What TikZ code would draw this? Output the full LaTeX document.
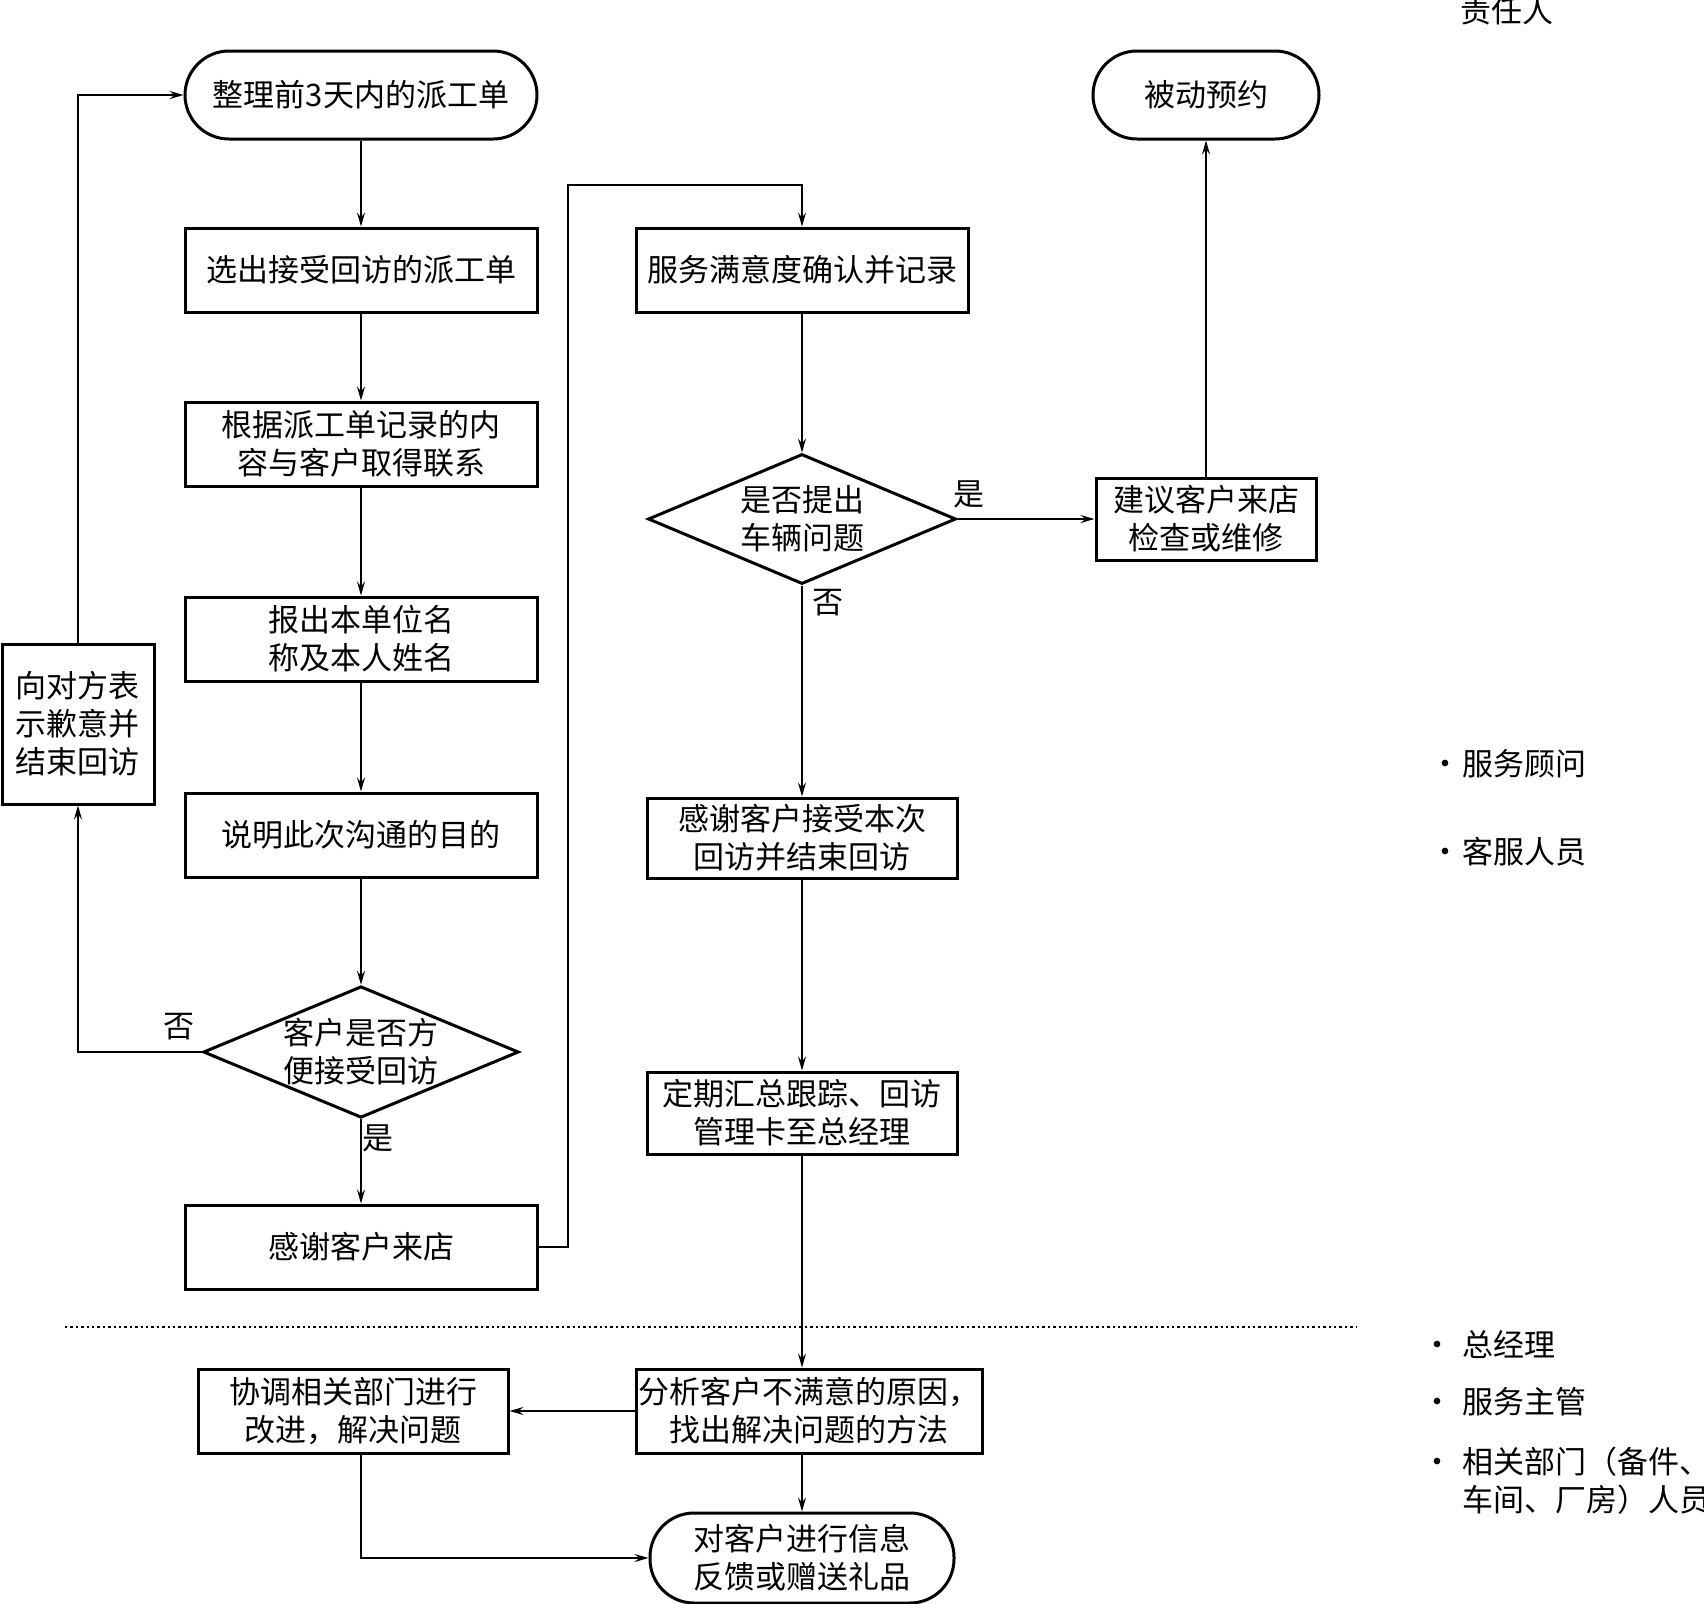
\documentclass[tikz,border=0pt]{standalone}
\usepackage{fontspec}
\setmainfont{Noto Sans CJK SC}
\usetikzlibrary{arrows.meta,shapes.geometric}

\begin{document}
\begin{tikzpicture}[x=0.5pt,y=-0.5pt,
  font=\fontsize{15.5}{19}\selectfont,
  box/.style={draw,line width=1.5pt,inner sep=1pt,align=center,minimum height=42pt},
  term/.style={draw,line width=1.5pt,inner sep=1pt,align=center,rounded corners=22pt,minimum height=44pt},
  dec/.style={draw,diamond,aspect=2.4,line width=1.5pt,inner sep=0pt,align=center},
  lab/.style={inner sep=0pt},
  flow/.style={-{Stealth[length=7pt,width=4pt,inset=2.5pt]},line width=1pt},
  thin/.style={flow,line width=0.6pt},
  sep/.style={line width=1.2pt,dash pattern=on 1.2pt off 1.5pt}]
  \useasboundingbox (0,0) rectangle (1704,1603);

  % left column
  \node[term,minimum width=176pt] (start) at (361,95) {整理前3天内的派工单};
  \node[box,minimum width=176pt] (pick) at (361,270) {选出接受回访的派工单};
  \node[box,minimum width=176pt] (contact) at (361,444) {根据派工单记录的内\\容与客户取得联系};
  \node[box,minimum width=176pt] (report) at (361,639) {报出本单位名\\称及本人姓名};
  \node[box,minimum width=176pt] (explain) at (361,835) {说明此次沟通的目的};
  \node[dec,minimum width=152pt,minimum height=63pt] (conv) at (361,1052) {客户是否方\\便接受回访};
  \node[box,minimum width=176pt] (thanks) at (361,1247) {感谢客户来店};
  \node[box,minimum width=76pt,minimum height=80pt] (apol) at (78,724) {向对方表\\示歉意并\\结束回访};

  % right column
  \node[box,minimum width=166pt] (satisfy) at (802,270) {服务满意度确认并记录};
  \node[dec,minimum width=154pt,minimum height=65pt] (carq) at (802,519) {是否提出\\车辆问题};
  \node[box,minimum width=110pt,minimum height=41pt] (suggest) at (1206,519) {建议客户来店\\检查或维修};
  \node[term,minimum width=113pt] (passive) at (1206,95) {被动预约};
  \node[box,minimum width=155pt,minimum height=40pt] (thankend) at (802,838) {感谢客户接受本次\\回访并结束回访};
  \node[box,minimum width=155pt,minimum height=41pt] (summary) at (802,1113) {定期汇总跟踪、回访\\管理卡至总经理};

  % below the line
  \node[box,minimum width=173pt] (analyse) at (809,1411) {分析客户不满意的原因，\\找出解决问题的方法};
  \node[box,minimum width=155pt] (coord) at (353,1411) {协调相关部门进行\\改进，解决问题};
  \node[term,minimum width=152pt,minimum height=45pt] (feedback) at (802,1558) {对客户进行信息\\反馈或赠送礼品};

  \draw[sep] (65,1327) -- (1356,1327);

  \draw[flow] (start) -- (pick);
  \draw[flow] (pick) -- (contact);
  \draw[flow] (contact) -- (report);
  \draw[flow] (report) -- (explain);
  \draw[flow] (explain) -- (conv);
  \draw[flow] (conv) -- (thanks);
  \draw[flow] (conv.west) -| (apol.south);
  \draw[flow] (apol.north) |- (start.west);
  \coordinate (up) at (568,185);
  \draw[thin] (thanks.east) -| (up) -| (satisfy.north);

  \draw[thin] (satisfy) -- (carq);
  \draw[flow] (carq.east) -- (suggest.west);
  \draw[thin] (suggest) -- (passive);
  \draw[thin] (carq) -- (thankend);
  \draw[thin] (thankend) -- (summary);
  \draw[thin] (summary.south) -- (summary.south |- analyse.north);
  \draw[flow] (analyse.west) -- (coord.east);
  \draw[thin] (analyse.south -| feedback.north) -- (feedback.north);
  \draw[flow] (coord.south -| conv.south) |- (feedback.west);

  \node[lab] (nconv) at (179,1027) {否};
  \node[lab] (yconv) at (378,1138) {是};
  \node[lab] (ycarq) at (969,494) {是};
  \node[lab] (ncarq) at (828,603) {否};

  % responsible persons
  \node[lab] (who) at (1507,11) {责任人};
  \foreach \x/\y in {1445/764,1445/852,1437/1345,1437/1402,1437/1462} {
    \node[lab] (dot\y) at (\x,\y) {\fontsize{8}{8}\selectfont$\bullet$};
  }
  \node[lab,anchor=west] (r1) at (1462,764) {服务顾问};
  \node[lab,anchor=west] (r2) at (1462,852) {客服人员};
  \node[lab,anchor=west] (r3) at (1462,1345) {总经理};
  \node[lab,anchor=west] (r4) at (1462,1402) {服务主管};
  \node[lab,anchor=west,align=left] (r5) at (1462,1481) {相关部门（备件、\\车间、厂房）人员};
\end{tikzpicture}
\end{document}
